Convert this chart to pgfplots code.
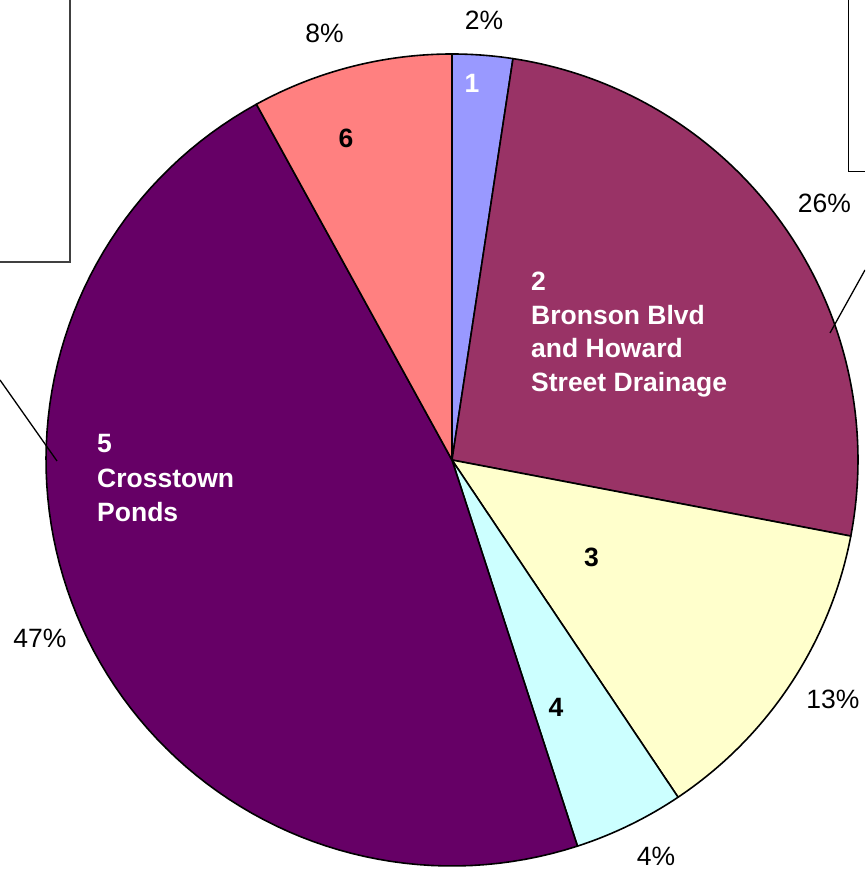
\documentclass[border=0pt]{standalone}
\usepackage{pgfplots}
\pgfplotsset{compat=1.18}
\usepackage{fontspec}
\setmainfont{Liberation Sans}
\definecolor{cA}{HTML}{9999FF}
\definecolor{cB}{HTML}{993366}
\definecolor{cC}{HTML}{FFFFCC}
\definecolor{cD}{HTML}{CCFFFF}
\definecolor{cE}{HTML}{660066}
\definecolor{cF}{HTML}{FF8080}
% slice shares (percent), clockwise from 12 o'clock
\def\vA{2.4}\def\vB{25.6}\def\vC{12.6}\def\vD{4.4}\def\vE{47.0}\def\vF{8.0}
\pgfmathsetmacro\aO{90}
\pgfmathsetmacro\aA{90-3.6*(\vA)}
\pgfmathsetmacro\aB{90-3.6*(\vA+\vB)}
\pgfmathsetmacro\aC{90-3.6*(\vA+\vB+\vC)}
\pgfmathsetmacro\aD{90-3.6*(\vA+\vB+\vC+\vD)}
\pgfmathsetmacro\aE{90-3.6*(\vA+\vB+\vC+\vD+\vE)}
\pgfmathsetmacro\aF{90-3.6*(\vA+\vB+\vC+\vD+\vE+\vF)}
\newcommand\lbl{\fontsize{26.5}{34}\selectfont}
\begin{document}
\begin{tikzpicture}
\begin{axis}[width=865pt, height=873pt, scale only axis,
  xmin=0, xmax=865, ymin=0, ymax=873, hide axis, clip=true]
\pgfplotsset{slice/.style={draw=black, line width=1.6pt, line join=round, samples=90}}
\addplot[slice, fill=cA, domain=\aA:\aO] ({452+406*cos(x)},{413+406*sin(x)}) -- (452,413) -- cycle;
\addplot[slice, fill=cB, domain=\aB:\aA] ({452+406*cos(x)},{413+406*sin(x)}) -- (452,413) -- cycle;
\addplot[slice, fill=cC, domain=\aC:\aB] ({452+406*cos(x)},{413+406*sin(x)}) -- (452,413) -- cycle;
\addplot[slice, fill=cD, domain=\aD:\aC] ({452+406*cos(x)},{413+406*sin(x)}) -- (452,413) -- cycle;
\addplot[slice, fill=cE, domain=\aE:\aD] ({452+406*cos(x)},{413+406*sin(x)}) -- (452,413) -- cycle;
\addplot[slice, fill=cF, domain=\aF:\aE] ({452+406*cos(x)},{413+406*sin(x)}) -- (452,413) -- cycle;
% callout boxes and leader lines
\draw[black!75, line width=1.2pt] (0,611) -- (70,611) -- (70,873);
\draw[black, line width=1pt] (848,873) -- (848,701) -- (865,701);
\draw[black, line width=1.3pt] (830,540) -- (865,603);
\draw[black, line width=1.3pt] (57,412) -- (0,493);
% inside labels
\begin{scope}[every node/.style={inner sep=0pt, font=\lbl\bfseries}]
\node[white, anchor=base] at (472,780) {1};
\node[white, anchor=base west] at (531,582) {2};
\node[white, anchor=base west] at (531,548) {Bronson Blvd};
\node[white, anchor=base west] at (531,515) {and Howard};
\node[white, anchor=base west] at (531,481) {Street Drainage};
\node[black, anchor=base] at (591.5,306) {3};
\node[black, anchor=base] at (556,156) {4};
\node[white, anchor=base west] at (97,420) {5};
\node[white, anchor=base west] at (97,385) {Crosstown};
\node[white, anchor=base west] at (97,351) {Ponds};
\node[black, anchor=base] at (346,725) {6};
\end{scope}
% percentage labels
\begin{scope}[every node/.style={inner sep=0pt, font=\lbl, anchor=base}]
\node at (484,843) {2\%};
\node at (824.5,660) {26\%};
\node at (833,164) {13\%};
\node at (656,8) {4\%};
\node at (40,225) {47\%};
\node at (324.5,830) {8\%};
\end{scope}
\end{axis}
\pgfresetboundingbox
\useasboundingbox (current axis.south west) rectangle (current axis.north east);
\end{tikzpicture}
\end{document}
